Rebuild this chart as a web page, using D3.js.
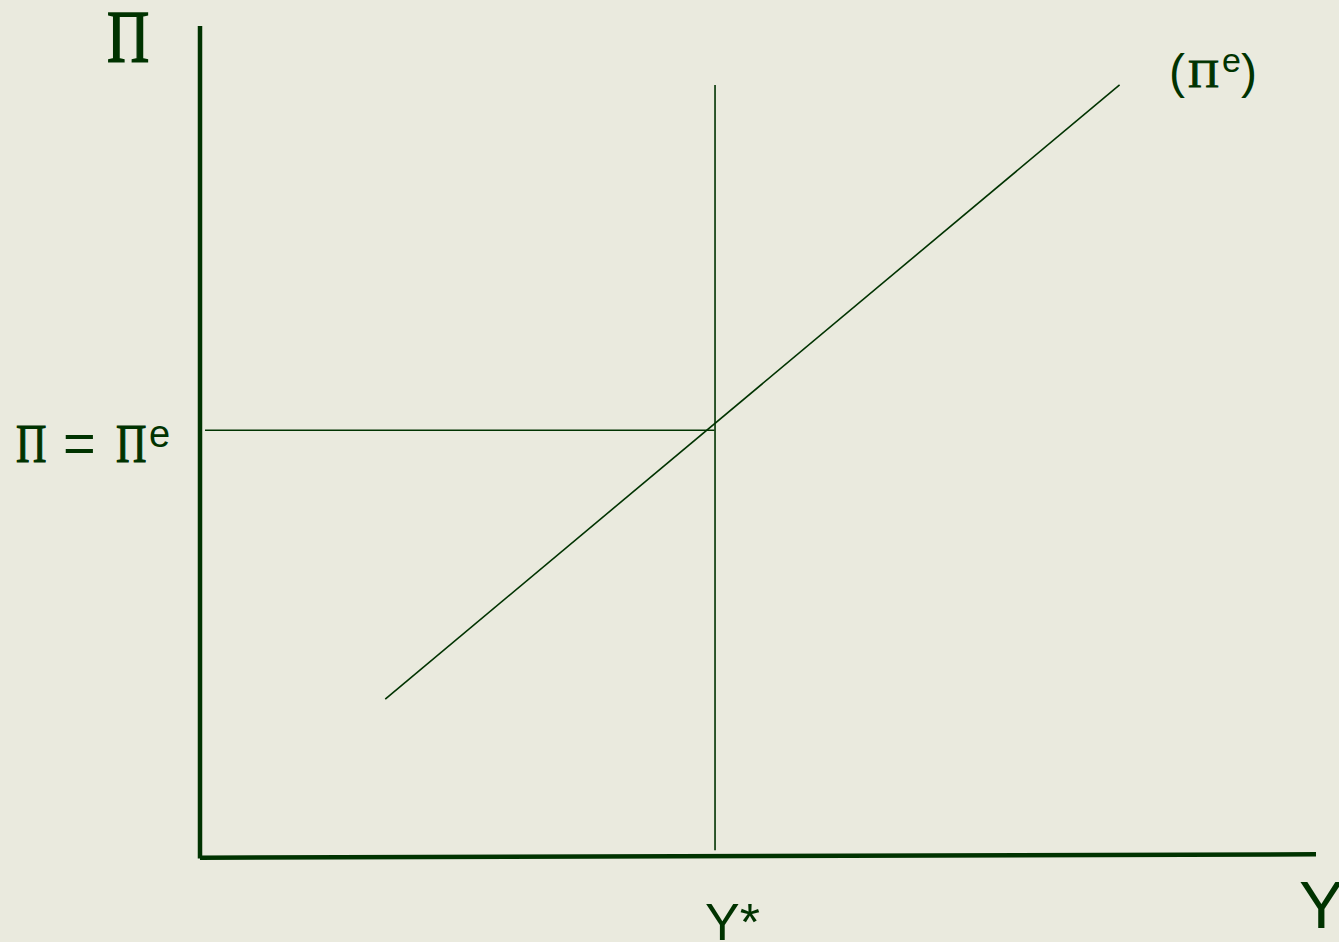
<!DOCTYPE html>
<html>
<head>
<meta charset="utf-8">
<script src="https://d3js.org/d3.v7.min.js"></script>
<style>
    html, body { margin: 0; padding: 0; background: #EAEADE; }
    #chart-container { width: 1339px; height: 942px; }
</style>
</head>
<body>
<div id="chart-container"></div>
<script>
// Chart data (in chart units, 0-100 on both axes)
const axisX = [[0, -0.2], [100, 0.2]];          // horizontal axis (Y)
const axisY = [[0, -0.3], [0, 100]];            // vertical axis (Π)
const potentialOutput = [[46.15, 0.7], [46.15, 92.9]];   // Y*
const expectedInflation = [[0.45, 51.3], [46.1, 51.3]];  // Π = Πe
const supplyCurve = [[16.6, 18.9], [82.4, 92.9]];         // (Πe)
const xLabels = ["Y*", "Y"];
const yLabels = ["Π", "Π = Πe"];
const curveLabel = "(Πe)";

// Dimensions
const totalWidth = 1339;
const totalHeight = 942;
const ink = "#003300";
const serif = "'Liberation Serif', 'Times New Roman', serif";
const sans = "'Liberation Sans', Arial, sans-serif";

const svg = d3.select("#chart-container")
    .append("svg")
    .attr("width", totalWidth)
    .attr("height", totalHeight);

svg.append("rect")
    .attr("width", totalWidth)
    .attr("height", totalHeight)
    .attr("fill", "#EAEADE");

// Scales
const x = d3.scaleLinear().domain([0, 100]).range([200, 1316]);
const y = d3.scaleLinear().domain([0, 100]).range([856, 26]);

const line = d3.line()
    .x(d => x(d[0]))
    .y(d => y(d[1]));

// Axes (thick)
svg.selectAll(".axis")
    .data([axisX, axisY])
    .enter().append("path")
    .attr("class", "axis")
    .attr("d", line)
    .attr("fill", "none")
    .attr("stroke", ink)
    .attr("stroke-width", 4.5);

// Thin lines
svg.selectAll(".guide")
    .data([potentialOutput, expectedInflation, supplyCurve])
    .enter().append("path")
    .attr("class", "guide")
    .attr("d", line)
    .attr("fill", "none")
    .attr("stroke", ink)
    .attr("stroke-width", 1.6);

// helper for a piece of text, optionally squeezed horizontally and thickened
function piece(str, px, py, size, family, sx, thick) {
    svg.append("text")
        .attr("transform", "translate(" + px + "," + py + ") scale(" + (sx || 1) + ",1)")
        .attr("font-family", family)
        .attr("font-size", size)
        .attr("fill", ink)
        .attr("stroke", thick ? ink : "none")
        .attr("stroke-width", thick || 0)
        .text(str);
}

// Vertical axis title
piece(yLabels[0], 107, 62, 75, serif, 0.78, 1.6);

// Π = Πe label next to the horizontal guide
const yl = y(expectedInflation[0][1]) + 32;
piece("Π", 16, yl, 54, serif, 0.78, 1.2);
piece("=", 63, yl, 56, sans);
piece("Π", 116, yl, 54, serif, 0.78, 1.2);
piece("e", 149, yl - 15, 38, sans);

// (Πe) curve label
const cl = y(supplyCurve[1][1]) + 3;
piece("(", 1169, cl, 48, sans);
piece("Π", 1188, cl - 1, 39, serif, 1.1, 0.9);
piece("e", 1222, cl - 16, 34, sans);
piece(")", 1241, cl, 48, sans);

// Horizontal axis labels
piece(xLabels[0], x(potentialOutput[0][0]) - 10, 940, 52, sans);
piece(xLabels[1], 1299, 928, 67, sans);
</script>
</body>
</html>
